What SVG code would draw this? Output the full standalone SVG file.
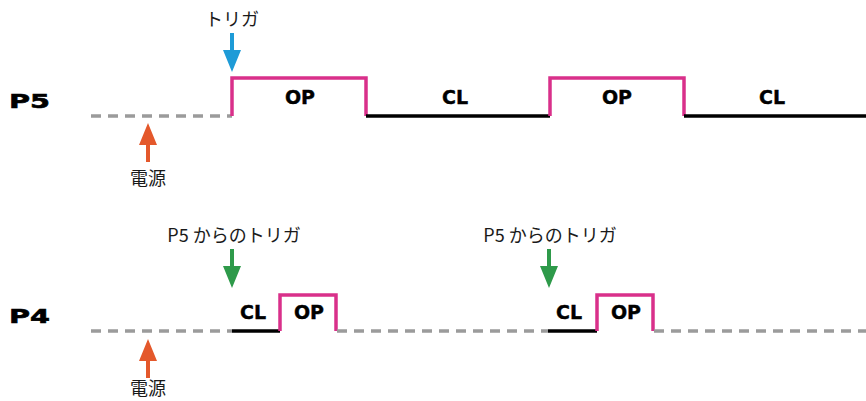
<svg xmlns="http://www.w3.org/2000/svg" width="866" height="401" viewBox="0 0 866 401">
<style>
.bg{fill:#fff}
.dash{fill:none;stroke:#9b9b9b;stroke-width:3.5;stroke-dasharray:10 7}
.low{fill:none;stroke:#000;stroke-width:3.5}
.high{fill:none;stroke:#d9308a;stroke-width:3.5;stroke-linejoin:miter}
.row{font-family:"DejaVu Sans",sans-serif;font-weight:bold;font-size:20px;fill:#000;stroke:#000;stroke-width:0.6}
.st{font-family:"DejaVu Sans",sans-serif;font-weight:bold;font-size:19px;fill:#000;text-anchor:middle;stroke:#000;stroke-width:0.4}
.jp{font-family:"Noto Sans CJK JP",sans-serif;font-size:18px;fill:#1a1a1a;text-anchor:middle}
</style>
<defs>
<path id="arrowDown" d="M-2,0 H2 V17 H9 L0,39 L-9,17 H-2 Z"/>
<path id="arrowUp" d="M-2,0 H2 V-17 H9 L0,-39 L-9,-17 H-2 Z"/>
</defs>
<rect class="bg" width="866" height="401"/>

<g id="connectors">
  <line class="dash" x1="91" y1="116" x2="232" y2="116"/>
  <polyline class="high" points="232,116 232,78 366,78 366,116"/>
  <line class="low" x1="366" y1="116" x2="550" y2="116"/>
  <polyline class="high" points="550,116 550,78 684,78 684,116"/>
  <line class="low" x1="684" y1="116" x2="866" y2="116"/>
  <line class="dash" x1="91" y1="331" x2="232" y2="331"/>
  <line class="low" x1="232" y1="331" x2="280" y2="331"/>
  <polyline class="high" points="280,331 280,295 336,295 336,331"/>
  <line class="dash" x1="337" y1="331" x2="548" y2="331"/>
  <line class="low" x1="548" y1="331" x2="597" y2="331"/>
  <polyline class="high" points="597,331 597,295 653,295 653,331"/>
  <line class="dash" x1="654" y1="331" x2="866" y2="331"/>
  <use href="#arrowDown" x="232" y="33" fill="#1e9bd7"/>
  <use href="#arrowUp" x="148" y="162" fill="#e4582b"/>
  <use href="#arrowDown" x="232" y="249" fill="#2e9a4a"/>
  <use href="#arrowDown" x="549" y="249" fill="#2e9a4a"/>
  <use href="#arrowUp" x="148" y="378" fill="#e4582b"/>
</g>

<g id="row-P5">
  <text class="row" x="9" y="108" textLength="41" lengthAdjust="spacingAndGlyphs">P5</text>
</g>
<g id="row-P4">
  <text class="row" x="9" y="323" textLength="41" lengthAdjust="spacingAndGlyphs">P4</text>
</g>

<g id="p5-states">
  <text class="st" x="300" y="104">OP</text>
  <text class="st" x="455" y="104">CL</text>
  <text class="st" x="617" y="104">OP</text>
  <text class="st" x="772" y="104">CL</text>
</g>
<g id="p4-states">
  <text class="st" x="253" y="319">CL</text>
  <text class="st" x="309" y="319">OP</text>
  <text class="st" x="569" y="319">CL</text>
  <text class="st" x="626" y="319">OP</text>
</g>

<g id="label-trigger">
  <text class="jp" x="232" y="26">トリガ</text>
</g>
<g id="label-power1">
  <text class="jp" x="148" y="185">電源</text>
</g>
<g id="label-p5trigger1">
  <text class="jp" x="234" y="242">P5 からのトリガ</text>
</g>
<g id="label-p5trigger2">
  <text class="jp" x="550" y="242">P5 からのトリガ</text>
</g>
<g id="label-power2">
  <text class="jp" x="148" y="395">電源</text>
</g>
</svg>
